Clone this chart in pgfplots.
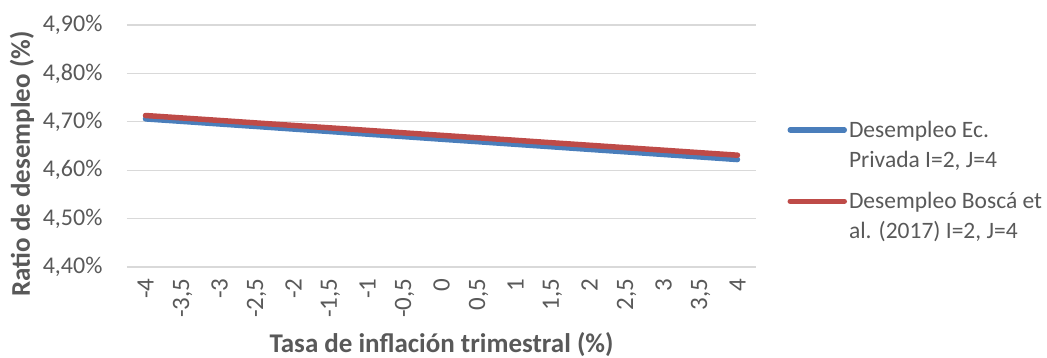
\documentclass[border=0pt]{standalone}
\usepackage{pgfplots}
\pgfplotsset{compat=1.18}
\usepackage{fontspec}
\setmainfont{Carlito}
\definecolor{txt}{HTML}{595959}
\definecolor{gridc}{HTML}{D9D9D9}
\definecolor{sblue}{HTML}{4A7EBB}
\definecolor{sred}{HTML}{BE4B48}
\begin{document}
\begin{tikzpicture}
\path[use as bounding box] (-127pt,-91pt) rectangle (920pt,267pt);
\begin{axis}[
  at={(0pt,0pt)}, anchor=south west,
  scale only axis, width=629pt, height=242pt,
  xmin=-0.5, xmax=16.5, ymin=4.40, ymax=4.90,
  xtick={0,...,16},
  xticklabels={-4,{-3,5},-3,{-2,5},-2,{-1,5},-1,{-0,5},0,{0,5},1,{1,5},2,{2,5},3,{3,5},4},
  xticklabel style={rotate=90, anchor=east, font=\fontsize{25}{30}\selectfont, text=txt},
  xticklabel shift=8pt,
  ytick={4.4,4.5,4.6,4.7,4.8,4.9},
  yticklabels={{4,40\%},{4,50\%},{4,60\%},{4,70\%},{4,80\%},{4,90\%}},
  yticklabel style={font=\fontsize{24}{29}\selectfont, text=txt},
  yticklabel shift=21pt,
  ymajorgrids, grid style={gridc, line width=1.3pt},
  axis line style={draw=none}, major tick length=0pt,
  xtick style={draw=none}, ytick style={draw=none},
  xlabel={Tasa de inflación trimestral (\%)},
  ylabel={Ratio de desempleo (\%)},
  xlabel style={font=\bfseries\fontsize{27}{32}\selectfont, text=txt,
    at={(axis description cs:0.5,-0.322)}, anchor=center},
  ylabel style={font=\bfseries\fontsize{27}{32}\selectfont, text=txt,
    at={(axis description cs:-0.167,0.426)}, anchor=center},
  legend style={at={(1.045,0.357)}, anchor=west, draw=none, fill=none,
    nodes={align=left, text=txt, font=\fontsize{23.5}{29.5}\selectfont}, row sep=20pt,
    column sep=0pt},
  legend cell align=left,
  legend image code/.code={\draw[#1] (0pt,15pt) -- (54pt,15pt);},
]
\addplot[sblue, line width=5.5pt, line cap=round] coordinates {
(0,4.706)(1,4.7008)(2,4.6955)(3,4.6903)(4,4.6850)(5,4.6798)(6,4.6745)(7,4.6693)(8,4.6640)(9,4.6588)(10,4.6535)(11,4.6483)(12,4.6430)(13,4.6378)(14,4.6325)(15,4.6273)(16,4.622)};
\addlegendentry{{Desempleo Ec.\\Privada I=2, J=4}}
\addplot[sred, line width=5.5pt, line cap=round] coordinates {
(0,4.713)(1,4.7079)(2,4.7028)(3,4.6976)(4,4.6925)(5,4.6874)(6,4.6823)(7,4.6771)(8,4.6720)(9,4.6669)(10,4.6618)(11,4.6566)(12,4.6515)(13,4.6464)(14,4.6413)(15,4.6361)(16,4.631)};
\addlegendentry{{Desempleo Boscá et\\al. (2017) I=2, J=4}}
\end{axis}
\end{tikzpicture}
\end{document}
